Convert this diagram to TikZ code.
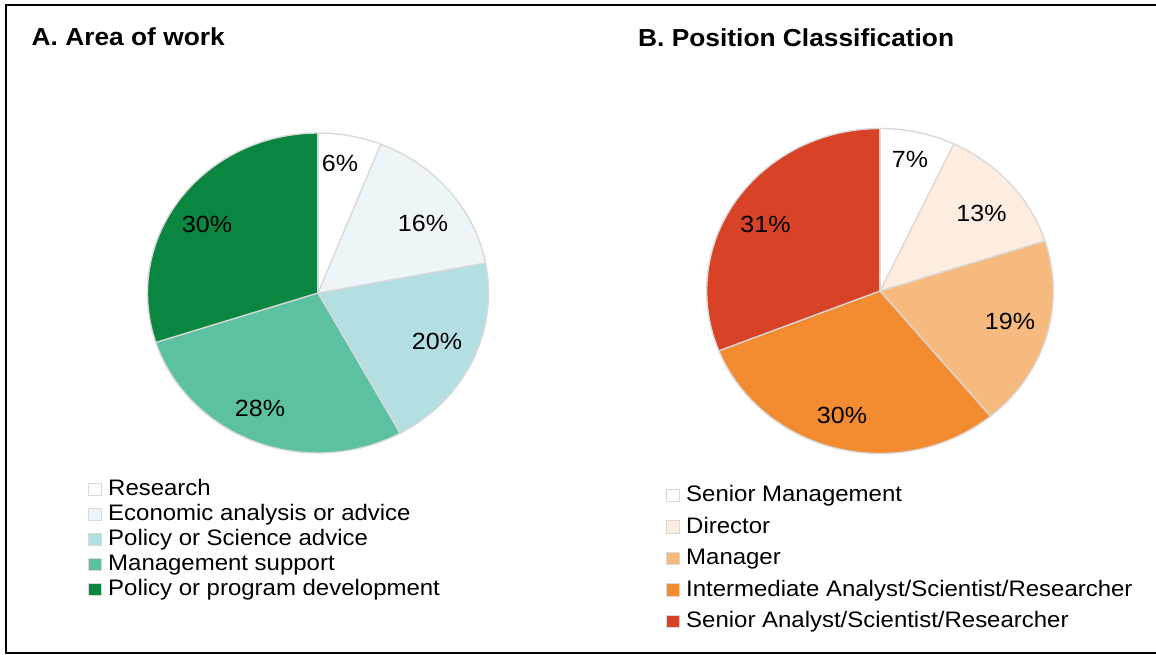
\documentclass[tikz,border=0pt]{standalone}
\usepackage{fontspec}
\setmainfont{Liberation Sans}
\definecolor{sepgray}{HTML}{D9D9D9}
\definecolor{gA}{HTML}{FFFFFF}
\definecolor{gB}{HTML}{EDF5F8}
\definecolor{gC}{HTML}{B3DFE2}
\definecolor{gD}{HTML}{5BC1A0}
\definecolor{gE}{HTML}{0B8640}
\definecolor{oA}{HTML}{FFFFFF}
\definecolor{oB}{HTML}{FDEDE0}
\definecolor{oC}{HTML}{F6B97E}
\definecolor{oD}{HTML}{F38B31}
\definecolor{oE}{HTML}{D84226}
\newcommand\myslice[7]{\fill[#7] (#1,#2) -- ++(#5:#3 and #4) arc[start angle=#5, end angle=#6, x radius=#3, y radius=#4] -- cycle;}
\begin{document}
\begin{tikzpicture}[x=1pt,y=-1pt,
  sep/.style={draw=sepgray, line width=1.4pt, line join=round},
  pct/.style={font=\fontsize{23.4}{26}\selectfont, xscale=1.07, inner sep=0pt},
  ttl/.style={font=\fontsize{24.6}{28}\selectfont\bfseries, xscale=1.07, anchor=base west, inner sep=0pt},
  leg/.style={font=\fontsize{22.4}{26}\selectfont, xscale=1.07, anchor=base west, inner sep=0pt},
  sw/.style={draw=sepgray, line width=0.6pt, minimum size=12.5pt, inner sep=0pt}]
\useasboundingbox (0,0) rectangle (1156,655);
\fill[white] (0,0) rectangle (1156,655);
\draw[line width=2.4pt] (1156,5.3) -- (6.2,5.3) -- (6.2,652.8) -- (1156,652.8);

% titles
\node[ttl] (tA) at (31.5,46) {A. Area of work};
\node[ttl] (tB) at (638,46.5) {B. Position Classification};

% left pie
\coordinate (Lc) at (318,293);
\myslice{318}{293}{170.5}{160}{-90}{-68.4}{gA}
\myslice{318}{293}{170.5}{160}{-68.4}{-10.8}{gB}
\myslice{318}{293}{170.5}{160}{-10.8}{61.2}{gC}
\myslice{318}{293}{170.5}{160}{61.2}{162}{gD}
\myslice{318}{293}{170.5}{160}{162}{270}{gE}
\foreach \a in {-90,-68.4,-10.8,61.2,162}{\draw[sep] (Lc) -- ++(\a:170.5 and 160);}
\draw[sep] (Lc) ellipse [x radius=170.5, y radius=160];

% right pie
\coordinate (Rc) at (880,291);
\myslice{880}{291}{173.3}{162.5}{-90}{-64.8}{oA}
\myslice{880}{291}{173.3}{162.5}{-64.8}{-18}{oB}
\myslice{880}{291}{173.3}{162.5}{-18}{50.4}{oC}
\myslice{880}{291}{173.3}{162.5}{50.4}{158.4}{oD}
\myslice{880}{291}{173.3}{162.5}{158.4}{270}{oE}
\foreach \a in {-90,-64.8,-18,50.4,158.4}{\draw[sep] (Rc) -- ++(\a:173.3 and 162.5);}
\draw[sep] (Rc) ellipse [x radius=173.3, y radius=162.5];

% left labels
\node[pct] (l6) at (340,163) {6\%};
\node[pct] (l16) at (423,223) {16\%};
\node[pct] (l20) at (437,341.5) {20\%};
\node[pct] (l28) at (260,408) {28\%};
\node[pct] (l30) at (207,224) {30\%};

% right labels
\node[pct] (r7) at (910,159.5) {7\%};
\node[pct] (r13) at (981.5,213) {13\%};
\node[pct] (r19) at (1010,321.5) {19\%};
\node[pct] (r30) at (842,415) {30\%};
\node[pct] (r31) at (765.5,224.5) {31\%};

% left legend
\node[sw, fill=gA] (sa) at (95,489.5) {};
\node[leg] (ta) at (108,495.5) {Research};
\node[sw, fill=gB] (sb) at (95,514.5) {};
\node[leg] (tb) at (108,520.5) {Economic analysis or advice};
\node[sw, fill=gC] (sc) at (95,539.5) {};
\node[leg] (tc) at (108,545.5) {Policy or Science advice};
\node[sw, fill=gD] (sd) at (95,564.5) {};
\node[leg] (td) at (108,570.5) {Management support};
\node[sw, fill=gE] (se) at (95,589.5) {};
\node[leg] (te) at (108,595.5) {Policy or program development};

% right legend
\node[sw, fill=oA] (ra) at (673,495.5) {};
\node[leg] (rta) at (686,501.5) {Senior Management};
\node[sw, fill=oB] (rb) at (673,527) {};
\node[leg] (rtb) at (686,533) {Director};
\node[sw, fill=oC] (rc) at (673,558.5) {};
\node[leg] (rtc) at (686,564.5) {Manager};
\node[sw, fill=oD] (rd) at (673,590) {};
\node[leg] (rtd) at (686,596) {Intermediate Analyst/Scientist/Researcher};
\node[sw, fill=oE] (re) at (673,621.5) {};
\node[leg] (rte) at (686,627.5) {Senior Analyst/Scientist/Researcher};
\end{tikzpicture}
\end{document}
